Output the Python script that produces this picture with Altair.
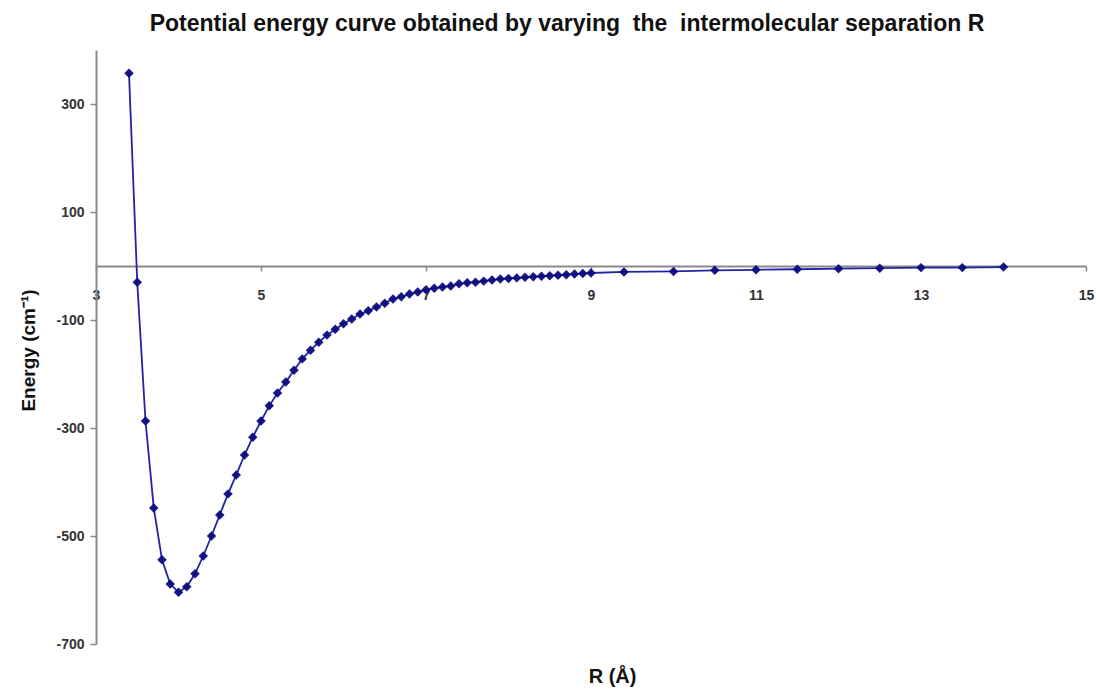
import altair as alt
import pandas as pd

# Intermolecular separation R (Å)
r_values = [3.4, 3.5, 3.6, 3.7, 3.8, 3.9, 4.0, 4.1, 4.2, 4.3, 4.4, 4.5, 4.6, 4.7, 4.8, 4.9,
            5.0, 5.1, 5.2, 5.3, 5.4, 5.5, 5.6, 5.7, 5.8, 5.9, 6.0, 6.1, 6.2, 6.3, 6.4, 6.5,
            6.6, 6.7, 6.8, 6.9, 7.0, 7.1, 7.2, 7.3, 7.4, 7.5, 7.6, 7.7, 7.8, 7.9, 8.0, 8.1,
            8.2, 8.3, 8.4, 8.5, 8.6, 8.7, 8.8, 8.9, 9.0, 9.4, 10.0, 10.5, 11.0, 11.5, 12.0,
            12.5, 13.0, 13.5, 14.0]
# Energy (cm-1)
energy_values = [357, -30, -287, -448, -544, -589, -604, -594, -570, -537, -500, -461, -422,
                 -387, -350, -317, -287, -259, -235, -215, -193, -172, -156, -141, -128, -117,
                 -107, -98, -89, -83, -76, -69, -61, -57, -52, -48, -44, -41, -39, -37, -33,
                 -31, -30, -28, -26, -24, -23, -22, -21, -20, -19, -18, -17, -16, -15, -14,
                 -13, -11, -10, -8, -7, -6, -5, -4, -3, -3, -2]

x_ticks = [3, 5, 7, 9, 11, 13, 15]
y_ticks = [-700, -500, -300, -100, 100, 300]

df = pd.DataFrame({"R": r_values, "E": energy_values})

W, H = 990, 594
Y_MIN, Y_MAX = -700, 400
zero_px = H * Y_MAX / (Y_MAX - Y_MIN)

FONT = "Liberation Sans"
AXIS_COLOR = "#8a8a8a"

x_enc = alt.X(
    "R:Q",
    scale=alt.Scale(domain=[3, 15], nice=False, zero=False),
    axis=alt.Axis(
        values=x_ticks, grid=False, offset=-(H - zero_px),
        labelExpr="'' + datum.value",
        domainColor=AXIS_COLOR, domainWidth=2, tickColor=AXIS_COLOR, tickWidth=1.5,
        tickSize=5, labelPadding=17, labelFont=FONT, labelFontSize=14,
        labelFontWeight="bold", labelColor="#333333", labelFlush=False,
        title="R (Å)", titleFont=FONT, titleFontSize=20, titleFontWeight="bold",
        titleColor="#111111", titleX=516, titleY=410, titleBaseline="middle",
        titleAnchor="start", titleAlign="center",
    ),
)
y_enc = alt.Y(
    "E:Q",
    scale=alt.Scale(domain=[Y_MIN, Y_MAX], nice=False, zero=False),
    axis=alt.Axis(
        values=y_ticks, grid=False,
        labelExpr="'' + datum.value",
        domainColor=AXIS_COLOR, domainWidth=2, tickColor=AXIS_COLOR, tickWidth=1.5,
        tickSize=6, labelPadding=6, labelFont=FONT, labelFontSize=14,
        labelFontWeight="bold", labelColor="#333333",
        title="Energy (cm⁻¹)", titleFont=FONT, titleFontSize=19, titleFontWeight="bold",
        titleColor="#111111", titleX=-68, titleY=300, titleAngle=-90,
        titleBaseline="middle", titleAlign="center", titleAnchor="start",
    ),
)

base = alt.Chart(df)
line = base.mark_line(color="#2323a6", strokeWidth=1.8).encode(x=x_enc, y=y_enc)
points = base.mark_point(shape="diamond", filled=True, size=90, color="#0b0b80",
                         opacity=0.95).encode(x="R:Q", y="E:Q")

chart = (
    alt.layer(line, points)
    .properties(
        width=W, height=H,
        background="white",
        title=alt.TitleParams(
            "Potential energy curve obtained by varying\u00a0 the\u00a0 intermolecular separation R",
            font=FONT, fontSize=23, fontWeight="bold", color="#111111",
            anchor="middle", dx=-24, offset=14,
        ),
        autosize=alt.AutoSizeParams(type="none"),
        padding={"left": 96, "top": 50, "right": 10, "bottom": 45},
    )
    .configure_view(strokeWidth=0)
)

chart.save("out.html", embed_options={"renderer": "svg", "actions": False})
